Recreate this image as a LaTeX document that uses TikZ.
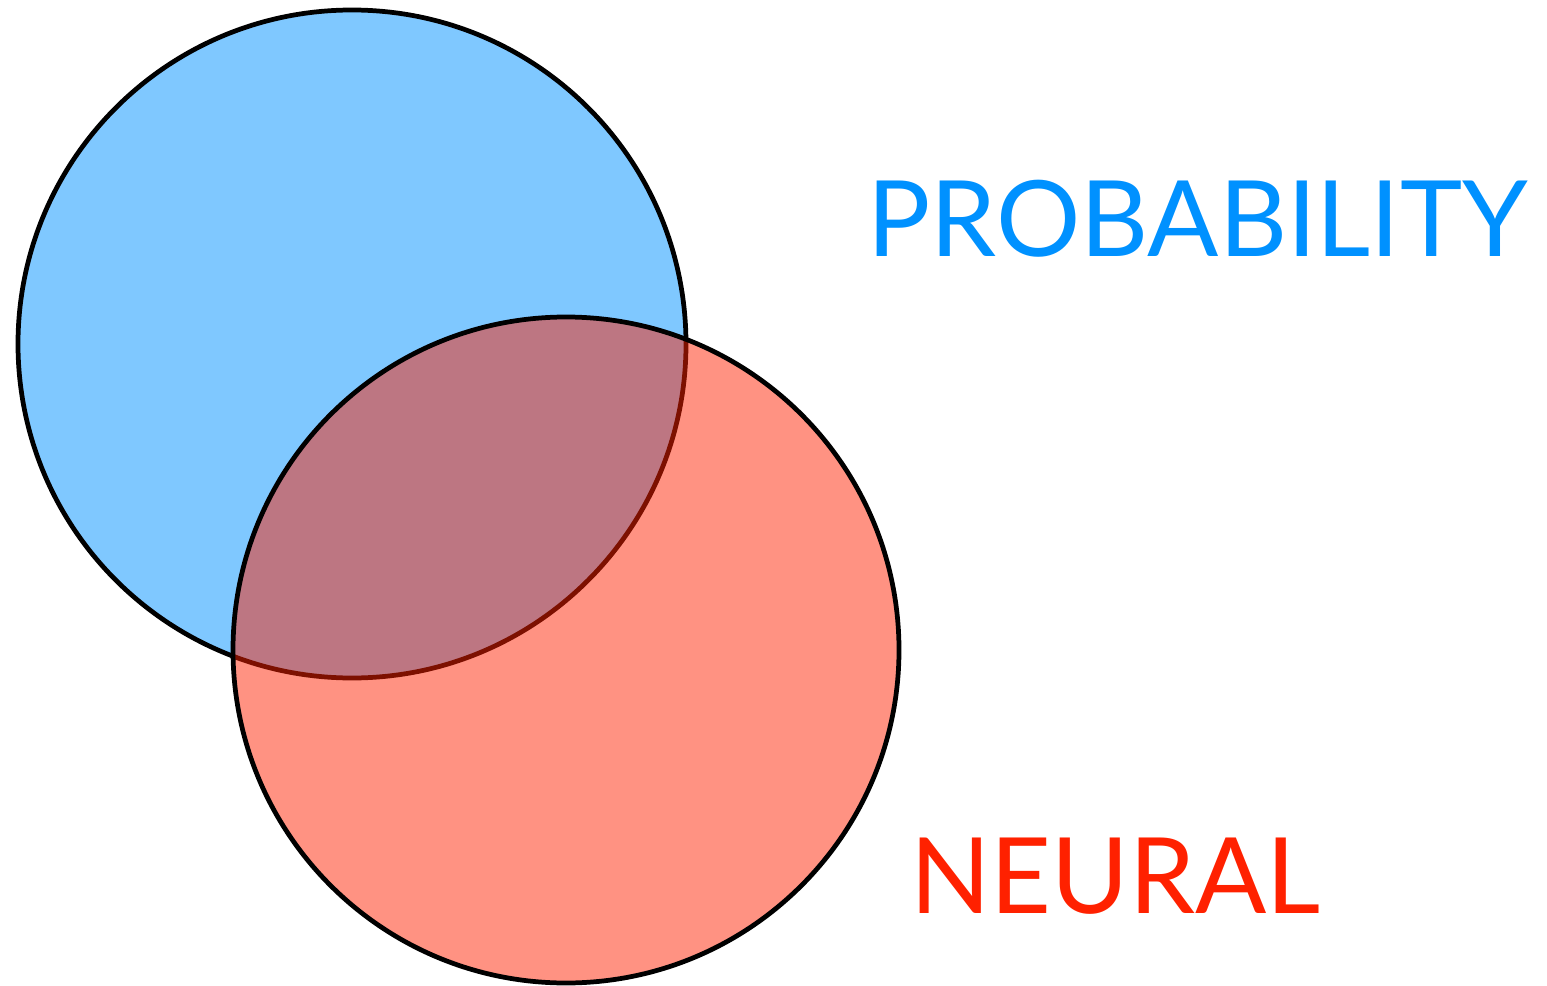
\documentclass[tikz,border=0pt]{standalone}
\usepackage{fontspec}
\setmainfont{Lato}
\usepackage{tikz}
\definecolor{probblue}{RGB}{0,145,255}
\definecolor{neurred}{RGB}{255,33,0}
\tikzset{
  setcircle/.style={draw=black, line width=2.7pt},
  setlabel/.style={anchor=base west, inner sep=0pt, font=\fontsize{60}{60}\selectfont}
}

\begin{document}
\begin{tikzpicture}[x=0.02cm, y=-0.02cm]
  \useasboundingbox (0,0) rectangle (1547,986);
  % the two sets
  \fill[probblue, fill opacity=0.5] (352,344) circle[radius=334];
  \draw[setcircle] (352,344) circle[radius=334];
  \fill[neurred, fill opacity=0.49] (566,650) circle[radius=333];
  \draw[setcircle] (566,650) circle[radius=333];
  % labels
  \node[setlabel, text=probblue] (prob) at (867,257) {PROBABILITY};
  \node[setlabel, text=neurred] (neural) at (910,913) {NEURAL};
\end{tikzpicture}
\end{document}
